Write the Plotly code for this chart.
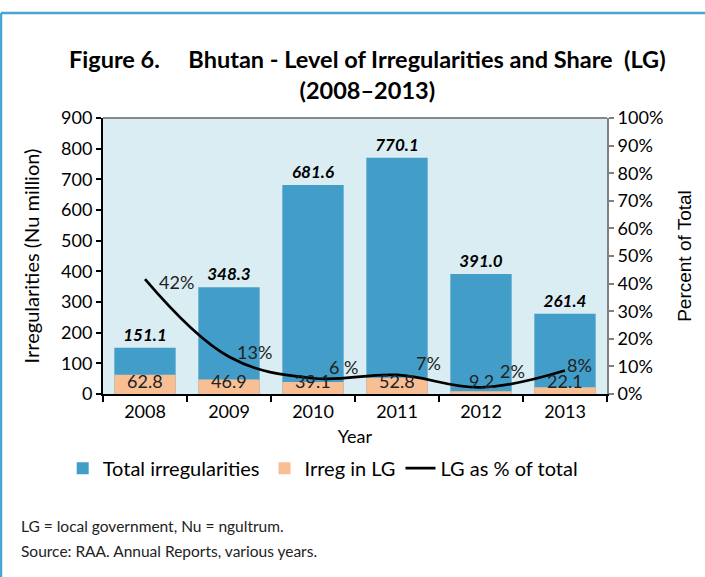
import plotly.graph_objects as go

years = ["2008", "2009", "2010", "2011", "2012", "2013"]
total_irreg = [151.1, 348.3, 681.6, 770.1, 391.0, 261.4]
lg_irreg = [62.8, 46.9, 39.1, 52.8, 9.2, 22.1]
lg_pct = [41.6, 13.5, 5.7, 6.9, 2.4, 8.5]
pct_labels = ["42%", "13%", "6 %", "7%", "2%", "8%"]
left_ticks = list(range(0, 901, 100))

BLUE = "#429ec9"
ORANGE = "#f9bf94"
FRAME = "#4aa5d0"
FONT = "Lato"

fig = go.Figure()
fig.add_trace(go.Bar(
    x=years, y=total_irreg, name="Total irregularities",
    marker=dict(color=BLUE, line=dict(width=0)),
    text=[f"{v:.1f}" for v in total_irreg], textposition="outside",
    textfont=dict(family=FONT, size=17, color="black", weight="bold", style="italic"),
    cliponaxis=False,
))
fig.add_trace(go.Bar(
    x=years, y=lg_irreg, name="Irreg in LG",
    marker=dict(color=ORANGE, line=dict(width=0)),
))
fig.add_trace(go.Scatter(
    x=years, y=[p / 100 for p in lg_pct], name="LG as % of total", yaxis="y2",
    mode="lines", line=dict(color="black", width=2.7, shape="spline", smoothing=1.1),
))

# value labels for LG bars (sit at the base of the bars)
for i, v in enumerate(lg_irreg):
    fig.add_annotation(x=i, y=0, xref="x", yref="y", text=f"{v:.1f}", showarrow=False,
                       yanchor="bottom", yshift=0,
                       font=dict(family=FONT, size=18, color="#222"))

# percent labels near the line
shifts = [(31, -3), (25, 5), (30, 11), (31, 12), (31, 16), (14, 6)]
for i, (p, lab, (dx, dy)) in enumerate(zip(lg_pct, pct_labels, shifts)):
    fig.add_annotation(x=i, y=p / 100, xref="x", yref="y2", text=lab, showarrow=False,
                       xshift=dx, yshift=dy,
                       font=dict(family=FONT, size=18, color="#222"))

# frame lines (top and left)
fig.add_shape(type="line", xref="paper", yref="paper", x0=-0.2024, x1=1.5,
              y0=1.380, y1=1.380, line=dict(color=FRAME, width=2.5))
fig.add_shape(type="line", xref="paper", yref="paper", x0=-0.2024, x1=-0.2024,
              y0=1.380, y1=-1.0, line=dict(color=FRAME, width=2.5))

fig.add_annotation(xref="paper", yref="paper", x=0.525, y=1.159, xanchor="center",
                   yanchor="middle", showarrow=False,
                   text="<b>Figure 6.     Bhutan - Level of Irregularities and Share  (LG)<br>(2008\u20132013)</b>",
                   font=dict(family=FONT, size=23.5, color="black"))

fig.add_annotation(xref="paper", yref="paper", x=-0.166, y=-0.478, xanchor="left",
                   yanchor="middle", showarrow=False,
                   text="LG = local government, Nu = ngultrum.",
                   font=dict(family=FONT, size=15.5, color="#222"))
fig.add_annotation(xref="paper", yref="paper", x=-0.166, y=-0.569, xanchor="left",
                   yanchor="middle", showarrow=False,
                   text="Source: RAA. Annual Reports, various years.",
                   font=dict(family=FONT, size=15.5, color="#222"))

fig.update_layout(
    width=705, height=577,
    margin=dict(l=103, r=98, t=118, b=183, autoexpand=False),
    paper_bgcolor="white", plot_bgcolor="#daedf3",
    barmode="overlay", bargap=0.27,
    font=dict(family=FONT, color="black"),
    showlegend=True,
    legend=dict(orientation="h", x=-0.08, y=-0.198, xanchor="left", yanchor="top",
                font=dict(family=FONT, size=20), itemwidth=30, traceorder="normal"),
    xaxis=dict(type="category", range=[-0.5, 5.5], showline=True, linecolor="black", linewidth=2,
               ticks="outside", tickson="boundaries", ticklen=6, tickwidth=2,
               tickcolor="black", tickfont=dict(size=18), tickangle=0,
               title=dict(text="Year", font=dict(size=18), standoff=10), mirror=False),
    yaxis=dict(range=[0, 900], tickvals=left_ticks, showline=True, linecolor="black",
               linewidth=2, ticks="outside", ticklen=5, tickwidth=2, tickcolor="black",
               showgrid=False, zeroline=False, tickfont=dict(size=18),
               title=dict(text="Irregularities (Nu million)", font=dict(size=20), standoff=16)),
    yaxis3=dict(range=[0, 900], tickvals=left_ticks, overlaying="y", side="left",
                showline=False, ticks="inside", ticklen=4, tickwidth=2, tickcolor="black",
                showticklabels=False, showgrid=False, zeroline=False),
    yaxis2=dict(range=[0, 1], overlaying="y", side="right", dtick=0.1, tickformat=".0%",
                showline=True, linecolor="#808080", linewidth=2, ticks="outside",
                ticklen=5, tickwidth=2, tickcolor="#808080", showgrid=False,
                zeroline=False, tickfont=dict(size=18),
                title=dict(text="Percent of Total", font=dict(family="Liberation Sans", size=19), standoff=15)),
)
fig.add_shape(type="line", xref="paper", yref="paper", x0=0, x1=1, y0=1, y1=1,
              line=dict(color="#888", width=2))

fig.write_html("out.html", config={"displayModeBar": False},
               post_script="document.body.style.margin='0';")
